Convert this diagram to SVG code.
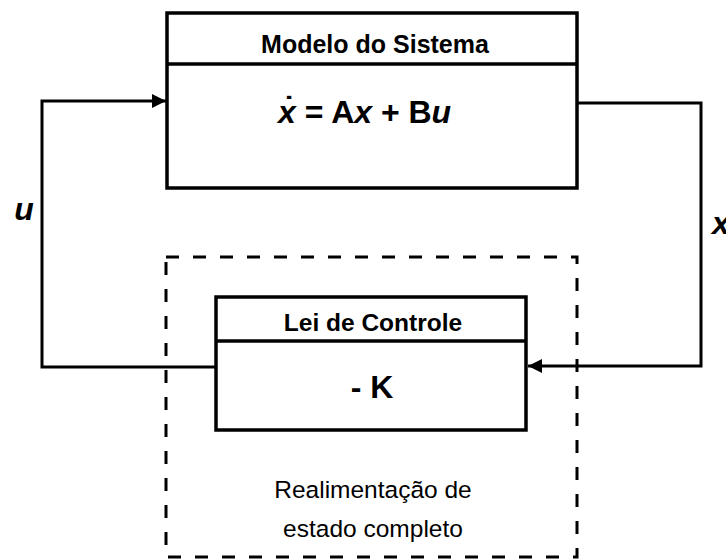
<svg xmlns="http://www.w3.org/2000/svg" width="726" height="559" viewBox="0 0 726 559">
  <style>
    .box { fill: #ffffff; stroke: #000000; stroke-width: 3.5; }
    .div { stroke: #000000; stroke-width: 3.5; }
    .wire { fill: none; stroke: #000000; stroke-width: 3; }
    .dash { fill: none; stroke: #000000; stroke-width: 3; stroke-dasharray: 13 14; }
    .t { font-family: "Liberation Sans", Arial, sans-serif; fill: #000000; text-anchor: middle; }
    .s { text-anchor: start; }
    .b { font-weight: bold; }
    .i { font-style: italic; }
  </style>
  <defs>
    <marker id="arrow" markerWidth="14" markerHeight="14" refX="14" refY="7" orient="auto" markerUnits="userSpaceOnUse">
      <path d="M0,0 L14,7 L0,14 z" fill="#000000"/>
    </marker>
  </defs>

  <!-- feedback boundary -->
  <g id="feedback-region">
    <rect class="dash" x="166" y="257" width="411" height="300"/>
    <text class="t" x="373" y="498" font-size="24.5">Realimentação de</text>
    <text class="t" x="373" y="537" font-size="24.5">estado completo</text>
  </g>

  <!-- connectors -->
  <g id="connectors">
    <polyline class="wire" points="216,367 42,367 42,101 166,101" marker-end="url(#arrow)"/>
    <polyline class="wire" points="577,103 701,103 701,366 528,366" marker-end="url(#arrow)"/>
    <text class="t b i" x="24" y="220" font-size="32">u</text>
    <text class="t s b i" x="712" y="234" font-size="32">x</text>
  </g>

  <!-- plant model -->
  <g id="system-model">
    <rect class="box" x="167" y="13" width="410" height="175"/>
    <line class="div" x1="167" y1="64" x2="577" y2="64"/>
    <text class="t b" x="375" y="53" font-size="25">Modelo do Sistema</text>
    <text class="t s b" x="278" y="123" font-size="32"><tspan class="i">x</tspan><tspan dx="-12" dy="-4">˙</tspan><tspan dx="1.4" dy="4"> = A</tspan><tspan class="i">x</tspan> + B<tspan class="i">u</tspan></text>
  </g>

  <!-- control law -->
  <g id="control-law">
    <rect class="box" x="216" y="297" width="310" height="133"/>
    <line class="div" x1="216" y1="341" x2="526" y2="341"/>
    <text class="t b" x="373" y="331" font-size="24.5">Lei de Controle</text>
    <text class="t b" x="372" y="398" font-size="32">- K</text>
  </g>
</svg>
